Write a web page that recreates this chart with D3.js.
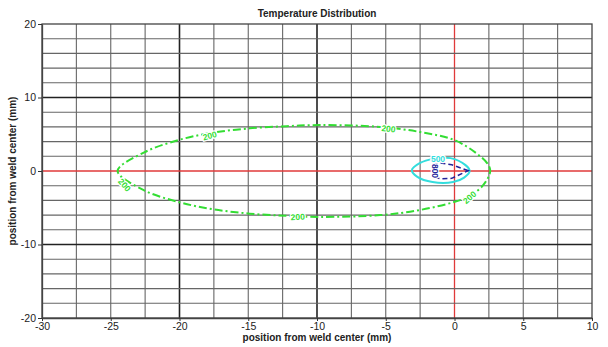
<!DOCTYPE html>
<html>
<head>
<meta charset="utf-8">
<script src="https://cdn.jsdelivr.net/npm/d3@7"></script>
<style>
  html, body { margin: 0; padding: 0; background: #fff; }
  svg { display: block; font-family: "Liberation Sans", Arial, sans-serif; }
</style>
</head>
<body>
<svg id="chart" width="608" height="347"></svg>
<script>
// Axis ranges and ticks (mm)
const xDomain = [-30, 10];
const yDomain = [-20, 20];
const xTicks = [-30, -25, -20, -15, -10, -5, 0, 5, 10];
const yTicks = [-20, -10, 0, 10, 20];
const xGrid = d3.range(-27.5, 10, 2.5);
const yGrid = d3.range(-18, 20, 2);

// Isotherm outlines (x, y in mm)
const iso200 = [[2.6,0],[2.4,1.0],[1.6,2.4],[0,4.2],[-2.5,5.3],[-5.4,6.0],[-9.8,6.25],
  [-12.2,6.1],[-14.9,5.8],[-17.6,5.2],[-20.1,4.2],[-22.6,2.5],[-24.5,0],[-22.6,-2.6],
  [-20.1,-4.2],[-17.6,-5.2],[-14.9,-5.8],[-12.2,-6.1],[-9.8,-6.25],[-5.4,-6.0],[-2.5,-5.3],
  [0,-4.2],[1.1,-3.4],[2.1,-1.9]];
const iso500 = [[1.1,0],[0.8,0.8],[-0.3,1.75],[-1.5,1.65],[-2.5,1.1],[-3.1,0.1],
  [-2.7,-0.8],[-1.6,-1.5],[-0.1,-1.5],[0.7,-0.9]];
const iso800 = [[1.0,0.05],[-0.2,0.85],[-1.0,1.1],[-1.45,0.9],[-1.5,0],[-1.45,-0.85],
  [-1.0,-1.05],[-0.2,-1.0]];

// Contour labels: [x, y, rotation]
const labels200 = [[-17.8,4.8,-15],[-4.8,5.75,6],[-24.0,-1.9,48],[-11.4,-6.25,-2],[1.1,-3.6,-42]];
const labels500 = [[-1.2,1.6,0]];
const labels800 = [[-1.42,0,90]];

const svg = d3.select("#chart");
const m = { left: 42, right: 592, top: 24, bottom: 318 };
const x = d3.scaleLinear().domain(xDomain).range([m.left, m.right]);
const y = d3.scaleLinear().domain(yDomain).range([m.bottom, m.top]);

// Grid
const g = svg.append("g");
g.selectAll(".gx").data(xGrid).join("line")
  .attr("x1", d => x(d)).attr("x2", d => x(d))
  .attr("y1", m.top).attr("y2", m.bottom)
  .attr("stroke", d => d === 0 ? "#e03a3a" : (d % 10 === 0 ? "#222" : "#666"))
  .attr("stroke-width", d => d === 0 ? 1.3 : (d % 10 === 0 ? 1.6 : 1.1));
g.selectAll(".gy").data(yGrid).join("line")
  .attr("y1", d => y(d)).attr("y2", d => y(d))
  .attr("x1", m.left).attr("x2", m.right)
  .attr("stroke", d => d === 0 ? "#e03a3a" : (d % 10 === 0 ? "#222" : "#666"))
  .attr("stroke-width", d => d === 0 ? 1.3 : (d % 10 === 0 ? 1.6 : 1.1));

// Frame
svg.append("rect").attr("x", m.left).attr("y", m.top)
  .attr("width", m.right - m.left).attr("height", m.bottom - m.top)
  .attr("fill", "none").attr("stroke", "#444").attr("stroke-width", 1.3);

// Axes (plain hyphen for negative numbers)
const fmt = d => String(d);
const xAxis = d3.axisBottom(x).tickValues(xTicks).tickFormat(fmt).tickSize(3).tickSizeOuter(0).tickPadding(2);
const yAxis = d3.axisLeft(y).tickValues(yTicks).tickFormat(fmt).tickSize(4).tickSizeOuter(0).tickPadding(2);
const ax = svg.append("g").attr("transform", `translate(0,${m.bottom})`).call(xAxis);
const ay = svg.append("g").attr("transform", `translate(${m.left},0)`).call(yAxis);
[ax, ay].forEach(a => {
  a.select(".domain").attr("stroke", "#444").attr("stroke-width", 1.3);
  a.selectAll(".tick line").attr("stroke", "#333");
  a.selectAll(".tick text").attr("font-size", 10.5).attr("fill", "#222")
    .attr("font-family", "Liberation Sans, Arial, sans-serif");
});

// Isotherm lines
const line = d3.line().x(d => x(d[0])).y(d => y(d[1]));
svg.append("path")
  .attr("d", line.curve(d3.curveCatmullRomClosed)(iso200))
  .attr("fill", "none").attr("stroke", "#33dd33").attr("stroke-width", 2)
  .attr("stroke-dasharray", "8,3,2,3");
svg.append("path")
  .attr("d", line.curve(d3.curveCatmullRomClosed)(iso500))
  .attr("fill", "none").attr("stroke", "#33dddd").attr("stroke-width", 2);
svg.append("path")
  .attr("d", line.curve(d3.curveLinearClosed)(iso800))
  .attr("fill", "none").attr("stroke", "#22229a").attr("stroke-width", 1.5)
  .attr("stroke-dasharray", "5,3");

// Contour labels
function addLabels(data, text, color) {
  svg.selectAll(null).data(data).join("text")
    .attr("transform", d => `translate(${x(d[0])},${y(d[1])}) rotate(${d[2]})`)
    .attr("text-anchor", "middle").attr("dy", "0.35em")
    .attr("font-size", 8.5).attr("font-weight", "bold")
    .attr("fill", color)
    .attr("stroke", "#fff").attr("stroke-width", 2.5).attr("paint-order", "stroke")
    .text(text);
}
addLabels(labels200, "200", "#33dd33");
addLabels(labels500, "500", "#33dddd");
addLabels(labels800, "800", "#22229a");

// Titles
svg.append("text").attr("x", (m.left + m.right) / 2).attr("y", 17)
  .attr("text-anchor", "middle").attr("font-size", 10).attr("font-weight", "bold")
  .attr("fill", "#222").text("Temperature Distribution");
svg.append("text").attr("x", (m.left + m.right) / 2).attr("y", 341)
  .attr("text-anchor", "middle").attr("font-size", 10).attr("font-weight", "bold")
  .attr("fill", "#222").text("position from weld center (mm)");
svg.append("text")
  .attr("transform", `translate(16,${(m.top + m.bottom) / 2}) rotate(-90)`)
  .attr("text-anchor", "middle").attr("font-size", 10).attr("font-weight", "bold")
  .attr("fill", "#222").text("position from weld center (mm)");
</script>
</body>
</html>
